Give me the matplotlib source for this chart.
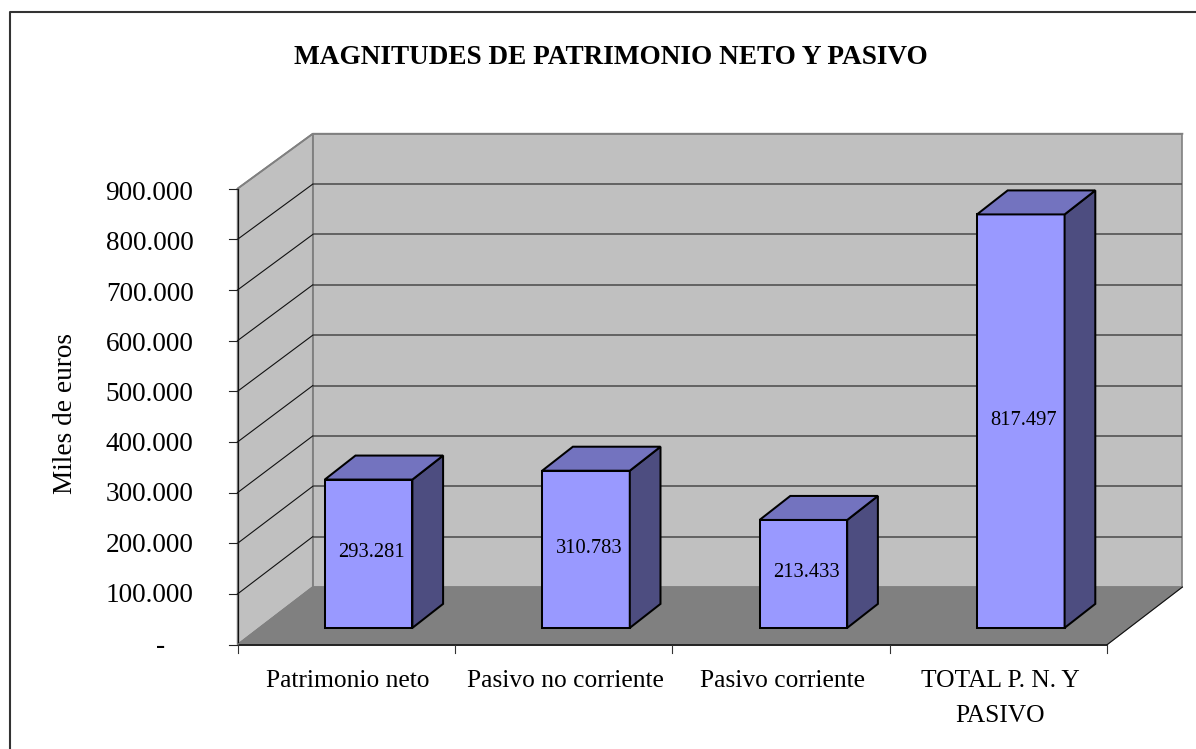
from matplotlib import pyplot as plt
from matplotlib.patches import Polygon

# data
categories = ['Patrimonio neto', 'Pasivo no corriente', 'Pasivo corriente', 'TOTAL P. N. Y\nPASIVO']
values = [293281, 310783, 213433, 817497]
value_labels = ['293.281', '310.783', '213.433', '817.497']
y_ticks = [0, 100000, 200000, 300000, 400000, 500000, 600000, 700000, 800000, 900000]
y_tick_labels = ['-', '100.000', '200.000', '300.000', '400.000', '500.000', '600.000', '700.000', '800.000', '900.000']
title = 'MAGNITUDES DE PATRIMONIO NETO Y PASIVO'
y_label = 'Miles de euros'

# colours
wall = '#c0c0c0'
floor = '#808080'
edge = '#808080'
face = '#9999ff'
top_face = '#7373bf'
side_face = '#4d4d80'

plt.rcParams['font.family'] = ['Liberation Serif', 'DejaVu Serif']

W, H = 1196, 749
fig = plt.figure(figsize=(W / 100, H / 100), dpi=100)
ax = fig.add_axes([0, 0, 1, 1])
ax.set_xlim(0, W)
ax.set_ylim(H, 0)
ax.axis('off')

# 3d box: front-left corner, size of the value axis and depth shift, in pixels
x0, y0 = 237.6, 644.6
cat_w = 217.4
val_h = 456.0
ymax = 900000.0
dx, dy = 75.2, -57.6


def proj(c, d, v):
    # c = category position, d = depth 0..1, v = value
    # the back wall is a bit shorter than the front edge
    return (x0 + c * cat_w + d * dx, y0 - v / ymax * val_h * (1 - 0.006 * d) + d * dy)


def poly(pts, fc, ec, lw, z):
    ax.add_patch(Polygon(pts, closed=True, facecolor=fc, edgecolor=ec, linewidth=lw, joinstyle='miter', zorder=z))


n = len(categories)

# chart frame (right and bottom fall outside the picture)
ax.plot([10, 10, W + 5], [H + 5, 12, 12], color='#333333', lw=1.5, zorder=1)

# walls and floor
poly([proj(0, 1, 0), proj(n, 1, 0), proj(n, 1, ymax), proj(0, 1, ymax)], wall, edge, 1.2, 2)
poly([proj(0, 0, 0), proj(0, 1, 0), proj(0, 1, ymax), proj(0, 0, ymax)], wall, edge, 1.2, 2)
poly([proj(0, 0, 0), proj(n, 0, 0), proj(n, 1, 0), proj(0, 1, 0)], floor, floor, 0.8, 3)

# grid lines
for t in y_ticks[1:-1]:
    a, b, c = proj(0, 0, t), proj(0, 1, t), proj(n, 1, t)
    ax.plot([b[0], c[0]], [b[1], c[1]], color='#484848', lw=1.1, zorder=3, solid_capstyle='butt')
    ax.plot([a[0], b[0]], [a[1], b[1]], color='#111111', lw=0.8, zorder=3)
# back edge at 900.000 stays grey
a, b, c = proj(0, 0, ymax), proj(0, 1, ymax), proj(n, 1, ymax)
ax.plot([a[0], b[0], c[0]], [a[1], b[1], c[1]], color=edge, lw=1.3, zorder=4)

# axes lines and ticks
a, b = proj(0, 0, 0), proj(0, 0, ymax)
ax.plot([a[0], b[0]], [a[1], b[1]], color='#111111', lw=0.9, zorder=5)
a, b = proj(0, 0, 0), proj(n, 0, 0)
ax.plot([a[0], b[0]], [a[1], b[1]], color='#222222', lw=1.4, zorder=5)
a, b = proj(n, 0, 0), proj(n, 1, 0)
ax.plot([a[0], b[0]], [a[1], b[1]], color='#111111', lw=0.8, zorder=5)
a, b = proj(0, 0, 0), proj(0, 1, 0)
ax.plot([a[0], b[0]], [a[1], b[1]], color=edge, lw=0.8, zorder=5)

for t, lab in zip(y_ticks, y_tick_labels):
    px, py = proj(0, 0, t)
    ax.plot([px - 9, px], [py, py], color='#222222', lw=0.8, zorder=5)
    if lab == '-':
        ax.text(161, py + 2, lab, ha='center', va='center', fontsize=19.6, color='black')
    else:
        ax.text(193.5, py + 1 + 4 * t / ymax, lab, ha='right', va='center', fontsize=19.6, color='black')

for i in range(n + 1):
    px, py = proj(i, 0, 0)
    ax.plot([px, px], [py, py + 8], color='#333333', lw=0.8, zorder=5)

for i, lab in enumerate(categories):
    px, py = proj(i + 0.5, 0, 0)
    ax.text(px + 1.5, 670, lab, ha='center', va='top', fontsize=18.4, color='black', linespacing=1.75)

# bars
bar_d = 0.29
bar_dx, bar_dy = 30.7, -24.0
for i, v in enumerate(values):
    base_y = proj(0, bar_d, 0)[1]
    top_y = proj(0, bar_d, v)[1]
    fl = x0 + (i + 0.401) * cat_w
    fr = fl + 0.403 * cat_w
    poly([(fl, base_y), (fr, base_y), (fr, top_y), (fl, top_y)], face, 'black', 1.45, 6)
    poly([(fr, base_y), (fr + bar_dx, base_y + bar_dy), (fr + bar_dx, top_y + bar_dy), (fr, top_y)],
         side_face, 'black', 1.45, 6)
    poly([(fl, top_y), (fr, top_y), (fr + bar_dx, top_y + bar_dy), (fl + bar_dx, top_y + bar_dy)],
         top_face, 'black', 1.45, 6)
    ax.text((fl + fr) / 2 + 3, (base_y + top_y) / 2 - 1, value_labels[i], ha='center', va='center',
            fontsize=14.8, color='black', zorder=7)

ax.text(611, 58, title, ha='center', va='center', fontsize=19.6, fontweight='bold', color='black')
ax.text(65, 413, y_label, ha='center', va='center', rotation=90, fontsize=19.6, color='black')

fig.savefig('out.png', dpi=100)
